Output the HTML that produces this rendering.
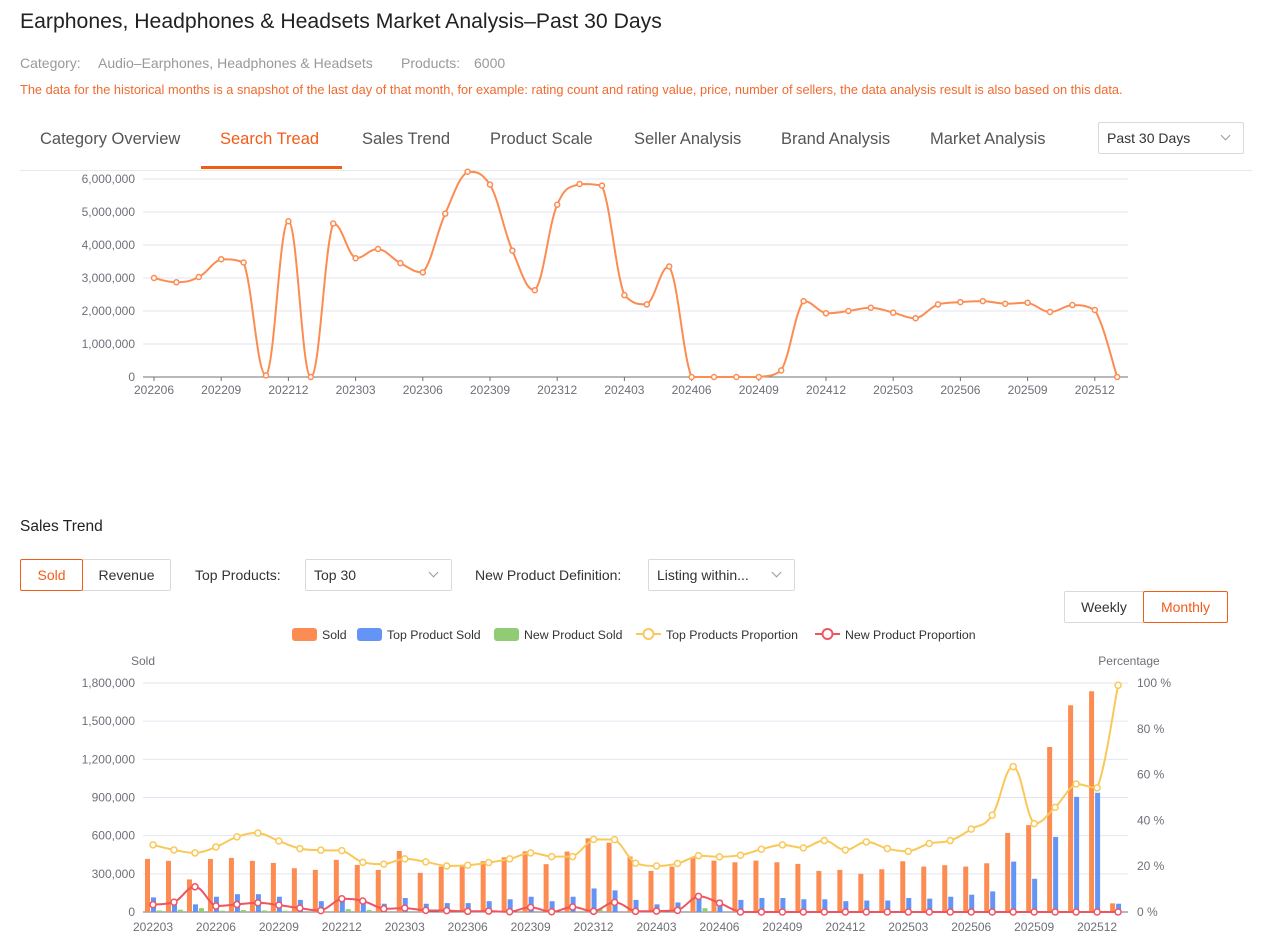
<!DOCTYPE html>
<html><head><meta charset="utf-8"><style>
body{margin:0;width:1269px;height:942px;background:#fff;font-family:"Liberation Sans",sans-serif;position:relative;overflow:hidden}
.a{position:absolute;white-space:nowrap}
.box{position:absolute;border:1px solid #d9d9d9;box-sizing:border-box;font-size:14px;color:#333;border-radius:2px}
.chev{position:absolute;width:6px;height:6px;border-right:1.3px solid #999;border-bottom:1.3px solid #999;transform:rotate(45deg)}
svg{position:absolute;left:0;top:0}
.t{font-size:16.5px;color:#555;top:130px}
.c{font-size:14px;color:#999;top:55px}
</style></head><body>
<div class="a" style="left:20px;top:10px;font-size:21.2px;color:#222">Earphones, Headphones &amp; Headsets Market Analysis–Past 30 Days</div>
<div class="a c" style="left:20px">Category:</div>
<div class="a c" style="left:98px">Audio–Earphones, Headphones &amp; Headsets</div>
<div class="a c" style="left:401px">Products:</div>
<div class="a c" style="left:474px">6000</div>
<div class="a" style="left:20px;top:82px;font-size:12.8px;color:#f26a2e">The data for the historical months is a snapshot of the last day of that month, for example: rating count and rating value, price, number of sellers, the data analysis result is also based on this data.</div>
<div class="a t" style="left:40px">Category Overview</div>
<div class="a t" style="left:220px;color:#f25c19">Search Tread</div>
<div class="a" style="left:201px;top:166px;width:141px;height:3px;background:#f25c19"></div>
<div class="a t" style="left:362px">Sales Trend</div>
<div class="a t" style="left:490px">Product Scale</div>
<div class="a t" style="left:634px">Seller Analysis</div>
<div class="a t" style="left:781px">Brand Analysis</div>
<div class="a t" style="left:930px">Market Analysis</div>
<div class="box" style="left:1098px;top:122px;width:146px;height:32px;padding:7px 8px">Past 30 Days</div>
<div class="chev" style="left:1222px;top:132px"></div>
<div class="a" style="left:20px;top:170px;width:1232px;height:1px;background:#e8e8e8"></div>

<div class="a" style="left:20px;top:518px;font-size:15.5px;color:#222">Sales Trend</div>
<div class="box" style="left:20px;top:559px;width:63px;height:32px;border-color:#f25c19;color:#f25c19;padding:7px 0;text-align:center;z-index:2">Sold</div>
<div class="box" style="left:82px;top:559px;width:89px;height:32px;padding:7px 0;text-align:center">Revenue</div>
<div class="a" style="left:195px;top:567px;font-size:14px;color:#333">Top Products:</div>
<div class="box" style="left:305px;top:559px;width:147px;height:32px;padding:7px 8px">Top 30</div>
<div class="chev" style="left:430px;top:569px"></div>
<div class="a" style="left:475px;top:567px;font-size:14px;color:#333">New Product Definition:</div>
<div class="box" style="left:648px;top:559px;width:147px;height:32px;padding:7px 8px">Listing within...</div>
<div class="chev" style="left:773px;top:569px"></div>
<div class="box" style="left:1064px;top:591px;width:80px;height:32px;padding:7px 0;text-align:center">Weekly</div>
<div class="box" style="left:1143px;top:591px;width:85px;height:32px;padding:7px 0;text-align:center;border-color:#f25c19;color:#f25c19">Monthly</div>

<svg id="s" width="1269" height="942" font-family="Liberation Sans, sans-serif"></svg>
<script>
var S='';
function cl(v,a,b){var lo=Math.min(a,b),hi=Math.max(a,b);return Math.max(lo,Math.min(hi,v));}
function path(pts){var d='M'+pts[0][0]+','+pts[0][1];for(var i=0;i<pts.length-1;i++){var p0=pts[i-1]||pts[i],p1=pts[i],p2=pts[i+1],p3=pts[i+2]||p2;var t=0.2;var c1=[p1[0]+(p2[0]-p0[0])*t,cl(p1[1]+(p2[1]-p0[1])*t,p1[1],p2[1])],c2=[p2[0]-(p3[0]-p1[0])*t,cl(p2[1]-(p3[1]-p1[1])*t,p1[1],p2[1])];d+=' C'+c1[0].toFixed(1)+','+c1[1].toFixed(1)+' '+c2[0].toFixed(1)+','+c2[1].toFixed(1)+' '+p2[0].toFixed(1)+','+p2[1].toFixed(1);}return d;}
var tv=[3.0,2.87,3.03,3.57,3.47,0.05,4.72,0,4.65,3.6,3.88,3.45,3.17,4.95,6.22,5.83,3.83,2.63,5.22,5.85,5.8,2.48,2.2,3.35,0,0,0,0,0.2,2.3,1.93,2.0,2.1,1.95,1.78,2.2,2.27,2.3,2.22,2.25,1.97,2.18,2.03,0];
for(var i=0;i<=6;i++){var y=377-i*33;S+='<line x1="143" x2="1128" y1="'+y+'" y2="'+y+'" stroke="'+(i?'#e0e6f1':'#6e7079')+'"/>';S+='<text x="135" y="'+(y+4)+'" font-size="12" fill="#6e7079" text-anchor="end">'+(i?(i+',000,000'):'0')+'</text>';}
var tl=['202206','202209','202212','202303','202306','202309','202312','202403','202406','202409','202412','202503','202506','202509','202512'];
var tx=function(i){return 154+i*22.4};
tl.forEach(function(l,k){S+='<line x1="'+tx(k*3)+'" x2="'+tx(k*3)+'" y1="377" y2="381" stroke="#6e7079"/><text x="'+tx(k*3)+'" y="394" font-size="12" fill="#6e7079" text-anchor="middle">'+l+'</text>'});
var tp=tv.map(function(v,i){return[tx(i),377-v*33]});
S+='<path d="'+path(tp)+'" fill="none" stroke="#fc8c52" stroke-width="2"/>';
tp.forEach(function(p){S+='<circle cx="'+p[0]+'" cy="'+p[1]+'" r="2.5" fill="#fff" stroke="#fc8c52" stroke-width="1.5"/>'});
function lg(x,c,t,line){if(line){S+='<line x1="'+x+'" x2="'+(x+25)+'" y1="634" y2="634" stroke="'+c+'" stroke-width="2"/><circle cx="'+(x+12.5)+'" cy="634" r="5" fill="#fff" stroke="'+c+'" stroke-width="2"/>'}else S+='<rect x="'+x+'" y="628" width="25" height="13" rx="3" fill="'+c+'"/>';S+='<text x="'+(x+30)+'" y="639" font-size="12.3" fill="#333">'+t+'</text>';}
lg(292,'#fc8c52','Sold');lg(357,'#6594f7','Top Product Sold');lg(494,'#91cc75','New Product Sold');lg(636,'#fac858','Top Products Proportion',1);lg(815,'#ee5561','New Product Proportion',1);
S+='<text x="143" y="665" font-size="12" fill="#6e7079" text-anchor="middle">Sold</text><text x="1129" y="665" font-size="12" fill="#6e7079" text-anchor="middle">Percentage</text>';
var yl=['0','300,000','600,000','900,000','1,200,000','1,500,000','1,800,000'];
for(i=0;i<=6;i++){var y=912-i*38.17;S+='<line x1="143" x2="1128" y1="'+y+'" y2="'+y+'" stroke="'+(i?'#e0e6f1':'#6e7079')+'"/>';S+='<text x="135" y="'+(y+4)+'" font-size="12" fill="#6e7079" text-anchor="end">'+yl[i]+'</text>';}
for(i=0;i<=5;i++){var y=912-i*45.8;S+='<text x="1137" y="'+(y+4)+'" font-size="12" fill="#6e7079">'+(i*20)+' %</text>';}
var sold=[417,402,256,417,425,402,386,344,331,410,370,331,480,308,357,357,399,430,477,376,475,579,545,436,323,357,430,404,391,404,391,378,323,331,300,336,399,357,368,357,383,621,683,1297,1625,1735,68];
var blue=[115,95,60,120,140,140,120,95,85,90,75,65,110,65,70,70,85,100,120,85,120,185,170,95,60,75,110,95,95,110,110,100,100,85,90,90,110,105,120,136,162,396,261,590,905,937,65];
var green={0:12,1:18,2:30,3:10,4:15,5:12,6:10,9:22,10:15,21:20,26:30};
var yel=[29.3,27.1,25.8,28.4,32.8,34.5,31,27.7,27,26.8,21.7,20.9,23.2,21.9,20.1,20.4,21.6,23.2,25.8,24.2,24.2,31.7,31.6,21.3,20.1,21.2,24.6,24.1,24.8,27.4,29.3,28,31.2,27.1,30.6,27.7,26.5,29.9,31.2,36.2,42.3,63.5,38.6,45.7,55.9,54.2,99];
var red=[3.2,4.3,11,2.6,3.3,4,3,1.7,0.6,5.8,4.8,1.4,1.7,0.7,0.6,0.3,0.4,0.1,2,0.1,2.2,0.3,4.2,0.3,0.4,0.7,6.8,3.9];while(red.length<47)red.push(0);
var bx=function(i){return 153+i*20.98};var k=0.12722;
var xl=['202203','202206','202209','202212','202303','202306','202309','202312','202403','202406','202409','202412','202503','202506','202509','202512'];
for(i=0;i<47;i++){var c=bx(i);S+='<rect x="'+(c-8)+'" y="'+(912-sold[i]*k)+'" width="5" height="'+(sold[i]*k)+'" fill="#fc8c52"/>';S+='<rect x="'+(c-2)+'" y="'+(912-blue[i]*k)+'" width="5" height="'+(blue[i]*k)+'" fill="#6594f7"/>';if(green[i])S+='<rect x="'+(c+4)+'" y="'+(912-green[i]*k)+'" width="5" height="'+(green[i]*k)+'" fill="#91cc75"/>';
if(i%3==0)S+='<text x="'+c+'" y="931" font-size="12" fill="#6e7079" text-anchor="middle">'+xl[i/3]+'</text>';}
function ln(a,c){var p=a.map(function(v,i){return[bx(i),912-v*2.29]});S+='<path d="'+path(p)+'" fill="none" stroke="'+c+'" stroke-width="2"/>';p.forEach(function(q){S+='<circle cx="'+q[0]+'" cy="'+q[1]+'" r="3" fill="#fff" stroke="'+c+'" stroke-width="1.5"/>'});}
ln(yel,'#fac858');ln(red,'#ee5561');
document.getElementById('s').innerHTML=S;
</script>
</body></html>
